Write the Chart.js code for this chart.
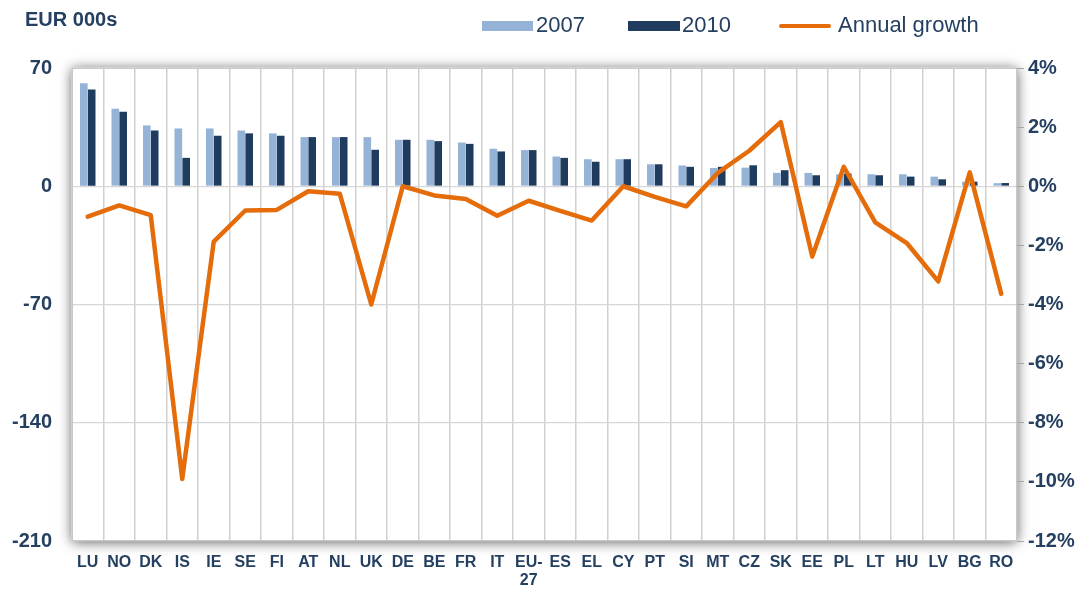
<!DOCTYPE html>
<html>
<head>
<meta charset="utf-8">
<script src="https://cdn.jsdelivr.net/npm/chart.js@4.4.1/dist/chart.umd.min.js"></script>
<style>
  html, body { margin: 0; padding: 0; background: #ffffff; }
  #wrap { width: 1090px; height: 592px; position: relative; }
</style>
</head>
<body>
<div id="wrap"><canvas id="c" width="1090" height="592"></canvas></div>
<script>
const categories = ['LU','NO','DK','IS','IE','SE','FI','AT','NL','UK','DE','BE','FR','IT',['EU-','27'],'ES','EL','CY','PT','SI','MT','CZ','SK','EE','PL','LT','HU','LV','BG','RO'];
const v2007 = [60.9,45.9,36.0,34.2,34.2,33.0,31.3,29.1,29.1,29.1,27.5,27.5,25.9,22.2,21.4,17.6,16.0,16.0,13.0,12.3,10.8,11.0,7.9,7.9,7.1,7.1,7.1,5.7,2.7,1.8];
const v2010 = [57.3,44.1,33.0,16.8,29.9,31.3,29.9,29.1,29.1,21.6,27.5,26.7,25.1,20.6,21.4,16.8,14.5,16.0,13.0,11.5,11.5,12.4,9.5,6.5,7.5,6.5,5.7,4.1,2.7,1.9];
const growth = [-1.03,-0.65,-0.98,-9.9,-1.87,-0.82,-0.80,-0.17,-0.25,-4.0,0.0,-0.31,-0.43,-1.0,-0.49,-0.83,-1.16,0.0,-0.36,-0.68,0.45,1.2,2.17,-2.38,0.66,-1.22,-1.92,-3.22,0.47,-3.64];
const leftTicks = [70, 0, -70, -140, -210];
const rightTicks = [4, 2, 0, -2, -4, -6, -8, -10, -12];

const NAVY = '#243F60';
const C2007 = '#95B3D7';
const C2010 = '#1F3B5E';
const ORANGE = '#E46C0A';

const framePlugin = {
  id: 'frame',
  beforeDraw(chart) {
    const {ctx, chartArea: a} = chart;
    ctx.save();
    ctx.shadowColor = 'rgba(0,0,0,0.65)';
    ctx.shadowBlur = 12;
    ctx.shadowOffsetX = 0;
    ctx.shadowOffsetY = 1;
    ctx.fillStyle = '#ffffff';
    ctx.fillRect(a.left, a.top, a.right - a.left, a.bottom - a.top);
    ctx.restore();
  },
  afterDraw(chart) {
    const {ctx, chartArea: a} = chart;
    ctx.save();
    ctx.strokeStyle = '#C8C8C8';
    ctx.lineWidth = 1;
    ctx.strokeRect(a.left + 0.5, a.top + 0.5, a.right - a.left - 1, a.bottom - a.top - 1);
    // unit label
    ctx.fillStyle = NAVY;
    ctx.font = 'bold 20px "Liberation Sans", Arial, sans-serif';
    ctx.textBaseline = 'middle';
    ctx.textAlign = 'left';
    ctx.fillText('EUR 000s', 25, 20);
    // legend
    ctx.font = '22px "Liberation Sans", Arial, sans-serif';
    ctx.fillStyle = C2007;
    ctx.fillRect(482, 21, 51, 10);
    ctx.fillStyle = NAVY;
    ctx.fillText('2007', 536, 26);
    ctx.fillStyle = C2010;
    ctx.fillRect(628, 21, 52, 10);
    ctx.fillStyle = NAVY;
    ctx.fillText('2010', 682, 26);
    ctx.strokeStyle = ORANGE;
    ctx.lineWidth = 4;
    ctx.lineCap = 'round';
    ctx.beginPath();
    ctx.moveTo(781, 26);
    ctx.lineTo(829, 26);
    ctx.stroke();
    ctx.fillStyle = NAVY;
    ctx.fillText('Annual growth', 838, 26);
    ctx.restore();
  }
};

new Chart(document.getElementById('c'), {
  type: 'bar',
  data: {
    labels: categories,
    datasets: [
      { type: 'line', label: 'Annual growth', data: growth, yAxisID: 'y1',
        borderColor: ORANGE, backgroundColor: ORANGE, borderWidth: 4.5,
        pointRadius: 0, tension: 0, order: 0, borderJoinStyle: 'round', borderCapStyle: 'round' },
      { label: '2007', data: v2007, yAxisID: 'y', backgroundColor: C2007,
        categoryPercentage: 0.5, barPercentage: 0.97, order: 1 },
      { label: '2010', data: v2010, yAxisID: 'y', backgroundColor: C2010,
        categoryPercentage: 0.5, barPercentage: 0.97, order: 1 }
    ]
  },
  options: {
    responsive: false,
    animation: false,
    layout: { padding: { top: 68, left: 0, right: 0, bottom: 0 } },
    plugins: { legend: { display: false }, tooltip: { enabled: false }, title: { display: false } },
    scales: {
      x: {
        offset: true,
        grid: { offset: true, color: '#D0D0D0', lineWidth: 1.5, drawTicks: false },
        border: { display: false },
        ticks: { color: NAVY, font: { family: '"Liberation Sans", Arial, sans-serif', size: 16, weight: 'bold', lineHeight: 1.15 }, padding: 12, maxRotation: 0, autoSkip: false },
        afterFit(s) { s.height = 51; }
      },
      y: {
        position: 'left',
        min: -210, max: 70,
        afterBuildTicks(s) { s.ticks = leftTicks.map(v => ({ value: v })); },
        grid: { color: '#D6D6D6', lineWidth: 1.2, drawTicks: false },
        border: { display: false },
        ticks: { color: NAVY, font: { family: '"Liberation Sans", Arial, sans-serif', size: 20, weight: 'bold' }, padding: 20 },
        afterFit(s) { s.width = 72; }
      },
      y1: {
        position: 'right',
        min: -12, max: 4,
        afterBuildTicks(s) { s.ticks = rightTicks.map(v => ({ value: v })); },
        grid: { drawOnChartArea: false, tickLength: 7, tickColor: '#A6A6A6' },
        border: { display: false },
        ticks: { color: NAVY, font: { family: '"Liberation Sans", Arial, sans-serif', size: 20, weight: 'bold' }, padding: 4, callback: v => v + '%' },
        afterFit(s) { s.width = 73; }
      }
    }
  },
  plugins: [framePlugin]
});
</script>
</body>
</html>
